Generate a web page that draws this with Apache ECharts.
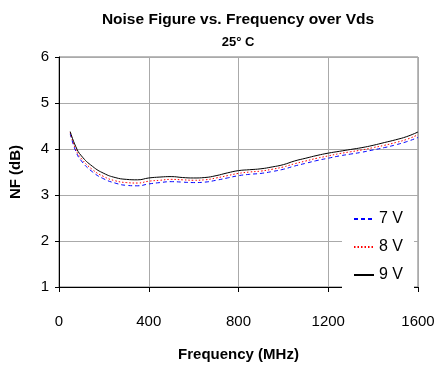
<!DOCTYPE html>
<html>
<head>
<meta charset="utf-8">
<script src="https://cdn.jsdelivr.net/npm/echarts@6/dist/echarts.min.js"></script>
<style>
  html, body { margin: 0; padding: 0; background: #fff; }
  #chart { width: 444px; height: 369px; }
</style>
</head>
<body>
<div id="chart"></div>
<script>
var freq = [50, 75, 100, 150, 200, 250, 300, 350, 400, 450, 500, 550, 600, 650, 700, 750, 800,
            850, 900, 950, 1000, 1050, 1100, 1150, 1200, 1250, 1300, 1350, 1400, 1450, 1500, 1550, 1600];
var nf7V = [4.33, 3.95, 3.74, 3.50, 3.35, 3.26, 3.21, 3.20, 3.24, 3.27, 3.29, 3.28, 3.27, 3.28, 3.32, 3.37, 3.42,
            3.45, 3.47, 3.51, 3.56, 3.63, 3.69, 3.75, 3.80, 3.85, 3.89, 3.93, 3.98, 4.03, 4.09, 4.16, 4.25];
var nf8V = [4.36, 3.99, 3.79, 3.55, 3.40, 3.31, 3.27, 3.26, 3.30, 3.32, 3.34, 3.33, 3.32, 3.33, 3.37, 3.42, 3.47,
            3.50, 3.52, 3.56, 3.61, 3.68, 3.74, 3.80, 3.85, 3.90, 3.94, 3.98, 4.03, 4.08, 4.14, 4.21, 4.31];
var nf9V = [4.38, 4.05, 3.85, 3.62, 3.47, 3.38, 3.34, 3.33, 3.37, 3.39, 3.40, 3.38, 3.37, 3.38, 3.42, 3.48, 3.53,
            3.55, 3.57, 3.61, 3.66, 3.74, 3.80, 3.86, 3.91, 3.95, 3.99, 4.03, 4.08, 4.14, 4.20, 4.27, 4.37];
var xTicks = [0, 400, 800, 1200, 1600];
var yTicks = [1, 2, 3, 4, 5, 6];

function pairs(ys) {
    return freq.map(function (f, i) { return [f, ys[i]]; });
}

var font = "'Liberation Sans', Arial, sans-serif";
var myChart = echarts.init(document.getElementById('chart'));

var option = {
    animation: false,
    title: {
        text: 'Noise Figure vs. Frequency over Vds',
        subtext: '25° C',
        left: 233,
        textAlign: 'center',
        top: 7,
        itemGap: 8,
        textStyle: { fontFamily: font, fontSize: 15.5, fontWeight: 'bold', color: '#000' },
        subtextStyle: { fontFamily: font, fontSize: 13, fontWeight: 'bold', color: '#000' }
    },
    legend: {
        orient: 'vertical',
        left: 342,
        top: 206,
        padding: [5, 11],
        itemGap: 12,
        itemWidth: 20,
        itemHeight: 14,
        backgroundColor: '#fff',
        itemStyle: { opacity: 0 },
        textStyle: { fontFamily: font, fontSize: 16, color: '#000' },
        data: ['7 V', '8 V', '9 V']
    },
    grid: {
        left: 54,
        right: 26,
        top: 57,
        bottom: 82,
        show: true,
        borderColor: '#777',
        borderWidth: 1
    },
    xAxis: {
        type: 'value',
        min: 0,
        max: 1600,
        interval: 400,
        name: 'Frequency (MHz)',
        nameLocation: 'middle',
        nameGap: 60,
        nameTextStyle: { fontFamily: font, fontSize: 15, fontWeight: 'bold', color: '#000' },
        axisLine: { lineStyle: { color: '#000' } },
        axisTick: { show: true, length: 5, lineStyle: { color: '#000' } },
        axisLabel: {
            fontFamily: font, fontSize: 15, color: '#000', margin: 27,
            formatter: function (v) { return xTicks.indexOf(v) >= 0 ? String(v) : ''; }
        },
        splitLine: { lineStyle: { color: '#aaa' } }
    },
    yAxis: {
        type: 'value',
        min: 1,
        max: 6,
        interval: 1,
        name: 'NF (dB)',
        nameLocation: 'middle',
        nameGap: 36,
        nameTextStyle: { fontFamily: font, fontSize: 15, fontWeight: 'bold', color: '#000' },
        axisLine: { show: true, lineStyle: { color: '#000' } },
        axisTick: { show: true, length: 4, lineStyle: { color: '#000' } },
        axisLabel: {
            fontFamily: font, fontSize: 15, color: '#000', margin: 10,
            formatter: function (v) { return yTicks.indexOf(v) >= 0 ? String(v) : ''; }
        },
        splitLine: { lineStyle: { color: '#aaa' } }
    },
    series: [
        {
            name: '7 V',
            type: 'line',
            smooth: true,
            symbol: 'none',
            data: pairs(nf7V),
            lineStyle: { color: '#0000ff', width: 1, type: [4, 3] },
            itemStyle: { color: '#0000ff' }
        },
        {
            name: '8 V',
            type: 'line',
            smooth: true,
            symbol: 'none',
            data: pairs(nf8V),
            lineStyle: { color: '#ff0000', width: 1, type: [1.5, 2] },
            itemStyle: { color: '#ff0000' }
        },
        {
            name: '9 V',
            type: 'line',
            smooth: true,
            symbol: 'none',
            data: pairs(nf9V),
            lineStyle: { color: '#000', width: 1 },
            itemStyle: { color: '#000' }
        }
    ]
};

myChart.setOption(option);
window.addEventListener('resize', function () {
    myChart.resize();
});
</script>
</body>
</html>
